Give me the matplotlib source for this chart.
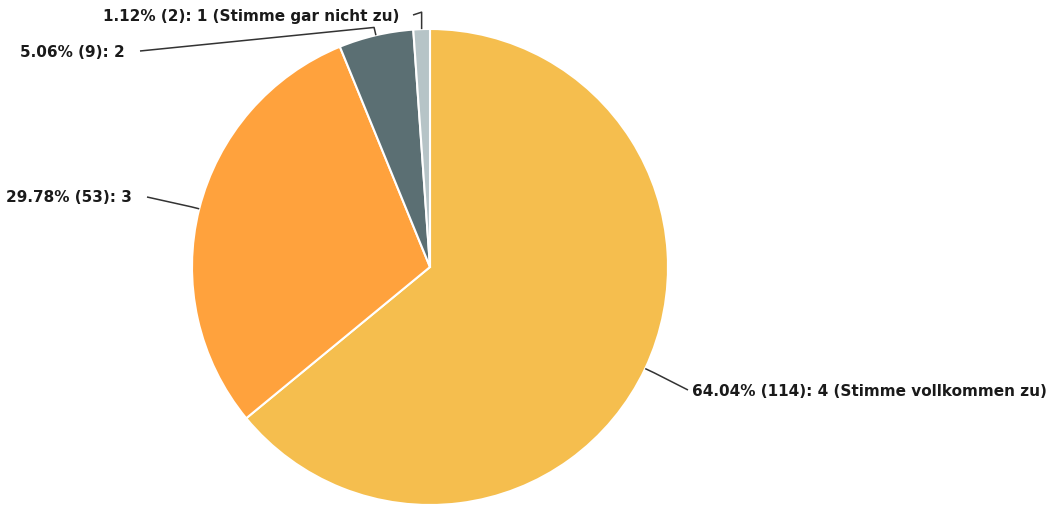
import numpy as np
import matplotlib
matplotlib.use("Agg")
import matplotlib.pyplot as plt

# data (clockwise from 12 o'clock)
percents = [64.04, 29.78, 5.06, 1.12]
counts = [114, 53, 9, 2]
answers = ["4 (Stimme vollkommen zu)", "3", "2", "1 (Stimme gar nicht zu)"]
colors = ["#F5BE4E", "#FFA23D", "#5B6F73", "#B6C4C7"]

# layout, in pixels of the 1061x506 picture (y up)
W, H = 1061, 506
CENTER = (430, 238)
RADIUS = 238
# text anchor (x, y), alignment, radial stub length
LABEL_POS = [((692, 115), "left", 10),
             ((132, 308), "right", 8),
             ((125, 454), "right", 8),
             ((399, 490), "right", 17)]

plt.rcParams['font.family'] = ['DejaVu Sans']

fig = plt.figure(figsize=(W / 100, H / 100), dpi=100)
ax = fig.add_axes([0, 0, 1, 1])

wedges, _ = ax.pie(percents, colors=colors, startangle=90, counterclock=False,
                   center=CENTER, radius=RADIUS,
                   wedgeprops=dict(edgecolor="white", linewidth=1.5))
ax.set_xlim(0, W)
ax.set_ylim(0, H)
ax.set_aspect("equal")
ax.axis("off")

for w, pct, n, ans, (pos, ha, stub) in zip(wedges, percents, counts, answers, LABEL_POS):
    ang = np.deg2rad((w.theta1 + w.theta2) / 2)
    ex = CENTER[0] + RADIUS * np.cos(ang)
    ey = CENTER[1] + RADIUS * np.sin(ang)
    bx = CENTER[0] + (RADIUS + stub) * np.cos(ang)
    by = CENTER[1] + (RADIUS + stub) * np.sin(ang)
    tx = pos[0] - 4 if ha == "left" else pos[0] + 15
    if ans.startswith("1 "):
        bx = ex
        tx = pos[0] + 14
    ax.plot([ex, bx, tx], [ey, by, pos[1]], color="#333333", lw=1.1,
            solid_capstyle="butt")
    ax.text(pos[0], pos[1], f"{pct:.2f}% ({n}): {ans}", ha=ha, va="center",
            fontsize=11, fontweight="bold", color="#1a1a1a")

fig.savefig("out.png", dpi=100)
